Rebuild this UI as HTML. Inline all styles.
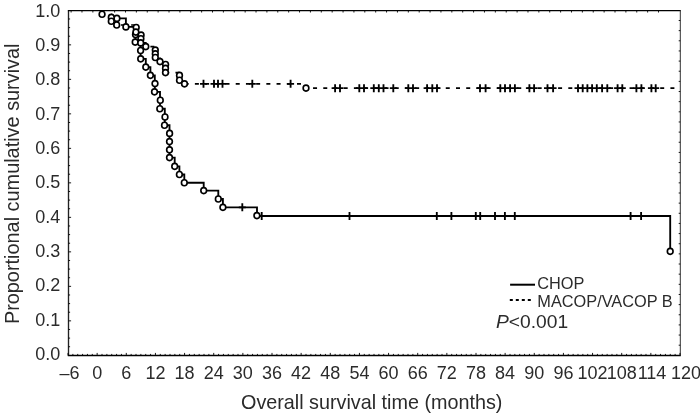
<!DOCTYPE html>
<html><head><meta charset="utf-8"><style>html,body{margin:0;padding:0;background:#fff;}svg{display:block;will-change:transform;}</style></head>
<body><svg width="700" height="413" viewBox="0 0 700 413"><path d="M68.5,355.5 V10.4" fill="none" stroke="#222" stroke-width="1.35"/>
<path d="M67.85,10.6 H680.8" fill="none" stroke="#000" stroke-width="1.2"/>
<path d="M67.85,355.5 H680.8" fill="none" stroke="#000" stroke-width="1.5"/>
<path d="M680.3,10.4 V355.5" fill="none" stroke="#333" stroke-width="1.0"/>
<path d="M68.01,355.5 v-2.6 M72.87,355.5 v-1.6 M77.72,355.5 v-1.6 M82.58,355.5 v-1.6 M87.44,355.5 v-1.6 M92.29,355.5 v-1.6 M97.15,355.5 v-2.6 M102.01,355.5 v-1.6 M106.86,355.5 v-1.6 M111.72,355.5 v-1.6 M116.58,355.5 v-1.6 M121.44,355.5 v-1.6 M126.29,355.5 v-2.6 M131.15,355.5 v-1.6 M136.01,355.5 v-1.6 M140.86,355.5 v-1.6 M145.72,355.5 v-1.6 M150.58,355.5 v-1.6 M155.43,355.5 v-2.6 M160.29,355.5 v-1.6 M165.15,355.5 v-1.6 M170.00,355.5 v-1.6 M174.86,355.5 v-1.6 M179.72,355.5 v-1.6 M184.58,355.5 v-2.6 M189.43,355.5 v-1.6 M194.29,355.5 v-1.6 M199.15,355.5 v-1.6 M204.00,355.5 v-1.6 M208.86,355.5 v-1.6 M213.72,355.5 v-2.6 M218.58,355.5 v-1.6 M223.43,355.5 v-1.6 M228.29,355.5 v-1.6 M233.15,355.5 v-1.6 M238.00,355.5 v-1.6 M242.86,355.5 v-2.6 M247.72,355.5 v-1.6 M252.57,355.5 v-1.6 M257.43,355.5 v-1.6 M262.29,355.5 v-1.6 M267.14,355.5 v-1.6 M272.00,355.5 v-2.6 M276.86,355.5 v-1.6 M281.72,355.5 v-1.6 M286.57,355.5 v-1.6 M291.43,355.5 v-1.6 M296.29,355.5 v-1.6 M301.14,355.5 v-2.6 M306.00,355.5 v-1.6 M310.86,355.5 v-1.6 M315.72,355.5 v-1.6 M320.57,355.5 v-1.6 M325.43,355.5 v-1.6 M330.29,355.5 v-2.6 M335.14,355.5 v-1.6 M340.00,355.5 v-1.6 M344.86,355.5 v-1.6 M349.71,355.5 v-1.6 M354.57,355.5 v-1.6 M359.43,355.5 v-2.6 M364.28,355.5 v-1.6 M369.14,355.5 v-1.6 M374.00,355.5 v-1.6 M378.86,355.5 v-1.6 M383.71,355.5 v-1.6 M388.57,355.5 v-2.6 M393.43,355.5 v-1.6 M398.28,355.5 v-1.6 M403.14,355.5 v-1.6 M408.00,355.5 v-1.6 M412.86,355.5 v-1.6 M417.71,355.5 v-2.6 M422.57,355.5 v-1.6 M427.43,355.5 v-1.6 M432.28,355.5 v-1.6 M437.14,355.5 v-1.6 M442.00,355.5 v-1.6 M446.85,355.5 v-2.6 M451.71,355.5 v-1.6 M456.57,355.5 v-1.6 M461.43,355.5 v-1.6 M466.28,355.5 v-1.6 M471.14,355.5 v-1.6 M476.00,355.5 v-2.6 M480.85,355.5 v-1.6 M485.71,355.5 v-1.6 M490.57,355.5 v-1.6 M495.42,355.5 v-1.6 M500.28,355.5 v-1.6 M505.14,355.5 v-2.6 M510.00,355.5 v-1.6 M514.85,355.5 v-1.6 M519.71,355.5 v-1.6 M524.57,355.5 v-1.6 M529.42,355.5 v-1.6 M534.28,355.5 v-2.6 M539.14,355.5 v-1.6 M543.99,355.5 v-1.6 M548.85,355.5 v-1.6 M553.71,355.5 v-1.6 M558.57,355.5 v-1.6 M563.42,355.5 v-2.6 M568.28,355.5 v-1.6 M573.14,355.5 v-1.6 M577.99,355.5 v-1.6 M582.85,355.5 v-1.6 M587.71,355.5 v-1.6 M592.56,355.5 v-2.6 M597.42,355.5 v-1.6 M602.28,355.5 v-1.6 M607.13,355.5 v-1.6 M611.99,355.5 v-1.6 M616.85,355.5 v-1.6 M621.71,355.5 v-2.6 M626.56,355.5 v-1.6 M631.42,355.5 v-1.6 M636.28,355.5 v-1.6 M641.13,355.5 v-1.6 M645.99,355.5 v-1.6 M650.85,355.5 v-2.6 M655.71,355.5 v-1.6 M660.56,355.5 v-1.6 M665.42,355.5 v-1.6 M670.28,355.5 v-1.6 M675.13,355.5 v-1.6 M679.99,355.5 v-2.6 M68.5,18.98 h1.6 M68.5,27.60 h1.6 M68.5,36.23 h1.6 M68.5,44.85 h2.6 M68.5,53.48 h1.6 M68.5,62.10 h1.6 M68.5,70.72 h1.6 M68.5,79.35 h2.6 M68.5,87.97 h1.6 M68.5,96.60 h1.6 M68.5,105.22 h1.6 M68.5,113.85 h2.6 M68.5,122.47 h1.6 M68.5,131.10 h1.6 M68.5,139.72 h1.6 M68.5,148.35 h2.6 M68.5,156.97 h1.6 M68.5,165.60 h1.6 M68.5,174.22 h1.6 M68.5,182.85 h2.6 M68.5,191.47 h1.6 M68.5,200.10 h1.6 M68.5,208.72 h1.6 M68.5,217.35 h2.6 M68.5,225.97 h1.6 M68.5,234.60 h1.6 M68.5,243.22 h1.6 M68.5,251.85 h2.6 M68.5,260.48 h1.6 M68.5,269.10 h1.6 M68.5,277.73 h1.6 M68.5,286.35 h2.6 M68.5,294.98 h1.6 M68.5,303.60 h1.6 M68.5,312.23 h1.6 M68.5,320.85 h2.6 M68.5,329.48 h1.6 M68.5,338.10 h1.6 M68.5,346.73 h1.6 M71.10,10.4 v2.1 M81.98,10.4 v2.1 M92.86,10.4 v2.1 M103.73,10.4 v2.1 M114.61,10.4 v2.1 M125.49,10.4 v2.1 M136.37,10.4 v2.1 M147.25,10.4 v2.1 M158.12,10.4 v2.1 M169.00,10.4 v2.1 M179.88,10.4 v2.1 M190.76,10.4 v2.1 M201.64,10.4 v2.1 M212.51,10.4 v2.1 M223.39,10.4 v2.1 M234.27,10.4 v2.1 M245.15,10.4 v2.1 M256.03,10.4 v2.1 M266.90,10.4 v2.1 M277.78,10.4 v2.1 M288.66,10.4 v2.1 M299.54,10.4 v2.1 M310.42,10.4 v2.1 M321.29,10.4 v2.1 M332.17,10.4 v2.1 M343.05,10.4 v2.1 M353.93,10.4 v2.1 M364.81,10.4 v2.1 M375.68,10.4 v2.1 M386.56,10.4 v2.1 M397.44,10.4 v2.1 M408.32,10.4 v2.1 M419.20,10.4 v2.1 M430.07,10.4 v2.1 M440.95,10.4 v2.1 M451.83,10.4 v2.1 M462.71,10.4 v2.1 M473.59,10.4 v2.1 M484.46,10.4 v2.1 M495.34,10.4 v2.1 M506.22,10.4 v2.1 M517.10,10.4 v2.1 M527.98,10.4 v2.1 M538.85,10.4 v2.1 M549.73,10.4 v2.1 M560.61,10.4 v2.1 M571.49,10.4 v2.1 M582.37,10.4 v2.1 M593.24,10.4 v2.1 M604.12,10.4 v2.1 M615.00,10.4 v2.1 M625.88,10.4 v2.1 M636.76,10.4 v2.1 M647.63,10.4 v2.1 M658.51,10.4 v2.1 M680.3,20.50 h-1.6 M680.3,30.64 h-1.6 M680.3,40.79 h-1.6 M680.3,50.94 h-1.6 M680.3,61.09 h-1.6 M680.3,71.23 h-1.6 M680.3,81.38 h-1.6 M680.3,91.53 h-1.6 M680.3,101.67 h-1.6 M680.3,111.82 h-1.6 M680.3,121.97 h-1.6 M680.3,132.11 h-1.6 M680.3,142.26 h-1.6 M680.3,152.41 h-1.6 M680.3,162.56 h-1.6 M680.3,172.70 h-1.6 M680.3,182.85 h-1.6 M680.3,193.00 h-1.6 M680.3,203.14 h-1.6 M680.3,213.29 h-1.6 M680.3,223.44 h-1.6 M680.3,233.58 h-1.6 M680.3,243.73 h-1.6 M680.3,253.88 h-1.6 M680.3,264.03 h-1.6 M680.3,274.17 h-1.6 M680.3,284.32 h-1.6 M680.3,294.47 h-1.6 M680.3,304.61 h-1.6 M680.3,314.76 h-1.6 M680.3,324.91 h-1.6 M680.3,335.05 h-1.6 M680.3,345.20 h-1.6" stroke="#000" stroke-width="0.9" fill="none"/>
<g font-family="Liberation Sans" font-size="18" fill="#2b2b2b"><text x="60.3" y="359.90" text-anchor="end">0.0</text><text x="60.3" y="325.59" text-anchor="end">0.1</text><text x="60.3" y="291.28" text-anchor="end">0.2</text><text x="60.3" y="256.97" text-anchor="end">0.3</text><text x="60.3" y="222.66" text-anchor="end">0.4</text><text x="60.3" y="188.35" text-anchor="end">0.5</text><text x="60.3" y="154.04" text-anchor="end">0.6</text><text x="60.3" y="119.73" text-anchor="end">0.7</text><text x="60.3" y="85.42" text-anchor="end">0.8</text><text x="60.3" y="51.11" text-anchor="end">0.9</text><text x="60.3" y="16.80" text-anchor="end">1.0</text><text x="69.41" y="378.6" text-anchor="middle">–6</text><text x="97.15" y="378.6" text-anchor="middle">0</text><text x="126.29" y="378.6" text-anchor="middle">6</text><text x="155.43" y="378.6" text-anchor="middle">12</text><text x="184.58" y="378.6" text-anchor="middle">18</text><text x="213.72" y="378.6" text-anchor="middle">24</text><text x="242.86" y="378.6" text-anchor="middle">30</text><text x="272.00" y="378.6" text-anchor="middle">36</text><text x="301.14" y="378.6" text-anchor="middle">42</text><text x="330.29" y="378.6" text-anchor="middle">48</text><text x="359.43" y="378.6" text-anchor="middle">54</text><text x="388.57" y="378.6" text-anchor="middle">60</text><text x="417.71" y="378.6" text-anchor="middle">66</text><text x="446.85" y="378.6" text-anchor="middle">72</text><text x="476.00" y="378.6" text-anchor="middle">78</text><text x="505.14" y="378.6" text-anchor="middle">84</text><text x="534.28" y="378.6" text-anchor="middle">90</text><text x="563.42" y="378.6" text-anchor="middle">96</text><text x="592.56" y="378.6" text-anchor="middle">102</text><text x="621.71" y="378.6" text-anchor="middle">108</text><text x="652.05" y="378.6" text-anchor="middle">114</text><text x="685.99" y="378.6" text-anchor="middle">120</text></g>
<text transform="translate(371.7,408.6) scale(0.965,1)" text-anchor="middle" font-family="Liberation Sans" font-size="20.5" fill="#2b2b2b">Overall survival time (months)</text>
<text transform="translate(18.5,183.8) rotate(-90) scale(0.97,1)" text-anchor="middle" font-family="Liberation Sans" font-size="20.5" fill="#2b2b2b">Proportional cumulative survival</text>
<path d="M510.1,284.7 H535" stroke="#000" stroke-width="2"/>
<path d="M509.8,300 H531" stroke="#000" stroke-width="2" stroke-dasharray="3 3"/>
<text transform="translate(537.3,289.4) scale(1.02,1)" font-family="Liberation Sans" font-size="16" fill="#2b2b2b">CHOP</text>
<text transform="translate(537.3,306.8) scale(1.02,1)" font-family="Liberation Sans" font-size="16" fill="#2b2b2b">MACOP/VACOP B</text>
<text transform="translate(496.0,327.6) scale(1.04,1)" font-family="Liberation Sans" font-size="18.5" fill="#2b2b2b"><tspan font-style="italic">P</tspan>&lt;0.001</text>
<path d="M112,18.4 H125.9 V26.9 H135.4 V42.1 H140.6 V58.8 H145.8 V67.1 H150.4 V75.3 H154.8 V91.8 H160 V108.7 H164.8 V125.2 H169.5 V157.6 H174.7 V166.3 H179.4 V174.5 H184.3 V182.7 H203.7 V190.6 H218.3 V199 H222.9 V207.3 H257 V216 H670.2 V251.3" fill="none" stroke="#000" stroke-width="1.85"/>
<path d="M102.05,10.8 V14.25 H111.3 V21.2 H116.7 V25 H136 V32.1 H141 V42.9 H145.8 V46.6 H155.3 V57.4 H160 V61.6 H165.5 V72.6 H179.5 V80.2 H184.5 V83.8 H306 V88.15 H680" fill="none" stroke="#000" stroke-width="1.7" stroke-dasharray="4.0 6.21" stroke-dashoffset="7.74"/>
<path d="M238.80,207.3 h7 M242.30,203.30 v8.0 M258.20,216 h7 M261.70,212.00 v8.0 M346.00,216 h7 M349.50,212.00 v8.0 M433.30,216 h7 M436.80,212.00 v8.0 M447.90,216 h7 M451.40,212.00 v8.0 M472.30,216 h7 M475.80,212.00 v8.0 M476.70,216 h7 M480.20,212.00 v8.0 M491.50,216 h7 M495.00,212.00 v8.0 M501.40,216 h7 M504.90,212.00 v8.0 M511.30,216 h7 M514.80,212.00 v8.0 M627.10,216 h7 M630.60,212.00 v8.0 M637.60,216 h7 M641.10,212.00 v8.0 M200.00,83.8 h7 M203.50,79.80 v8.0 M210.50,83.8 h7 M214.00,79.80 v8.0 M214.50,83.8 h7 M218.00,79.80 v8.0 M219.00,83.8 h7 M222.50,79.80 v8.0 M248.80,83.8 h7 M252.30,79.80 v8.0 M287.10,83.8 h7 M290.60,79.80 v8.0 M331.60,88.15 h7 M335.10,84.15 v8.0 M336.50,88.15 h7 M340.00,84.15 v8.0 M355.80,88.15 h7 M359.30,84.15 v8.0 M360.50,88.15 h7 M364.00,84.15 v8.0 M370.30,88.15 h7 M373.80,84.15 v8.0 M375.30,88.15 h7 M378.80,84.15 v8.0 M380.00,88.15 h7 M383.50,84.15 v8.0 M389.80,88.15 h7 M393.30,84.15 v8.0 M404.80,88.15 h7 M408.30,84.15 v8.0 M409.50,88.15 h7 M413.00,84.15 v8.0 M423.60,88.15 h7 M427.10,84.15 v8.0 M428.80,88.15 h7 M432.30,84.15 v8.0 M433.50,88.15 h7 M437.00,84.15 v8.0 M476.50,88.15 h7 M480.00,84.15 v8.0 M482.10,88.15 h7 M485.60,84.15 v8.0 M496.80,88.15 h7 M500.30,84.15 v8.0 M501.50,88.15 h7 M505.00,84.15 v8.0 M506.60,88.15 h7 M510.10,84.15 v8.0 M511.40,88.15 h7 M514.90,84.15 v8.0 M525.90,88.15 h7 M529.40,84.15 v8.0 M530.60,88.15 h7 M534.10,84.15 v8.0 M544.00,88.15 h7 M547.50,84.15 v8.0 M549.60,88.15 h7 M553.10,84.15 v8.0 M574.50,88.15 h7 M578.00,84.15 v8.0 M579.20,88.15 h7 M582.70,84.15 v8.0 M583.90,88.15 h7 M587.40,84.15 v8.0 M588.60,88.15 h7 M592.10,84.15 v8.0 M593.30,88.15 h7 M596.80,84.15 v8.0 M598.60,88.15 h7 M602.10,84.15 v8.0 M603.80,88.15 h7 M607.30,84.15 v8.0 M614.10,88.15 h7 M617.60,84.15 v8.0 M618.80,88.15 h7 M622.30,84.15 v8.0 M632.90,88.15 h7 M636.40,84.15 v8.0 M637.90,88.15 h7 M641.40,84.15 v8.0 M647.90,88.15 h7 M651.40,84.15 v8.0 M652.20,88.15 h7 M655.70,84.15 v8.0" fill="none" stroke="#000" stroke-width="1.85"/>
<g fill="#fff" stroke="#000" stroke-width="1.65"><ellipse cx="116.9" cy="18.4" rx="2.85" ry="3.0"/><ellipse cx="125.9" cy="26.9" rx="2.85" ry="3.0"/><ellipse cx="135.5" cy="34.6" rx="2.85" ry="3.0"/><ellipse cx="135.2" cy="42.1" rx="2.85" ry="3.0"/><ellipse cx="140.6" cy="50.5" rx="2.85" ry="3.0"/><ellipse cx="140.7" cy="58.8" rx="2.85" ry="3.0"/><ellipse cx="145.8" cy="67.1" rx="2.85" ry="3.0"/><ellipse cx="150.4" cy="75.3" rx="2.85" ry="3.0"/><ellipse cx="155" cy="83.6" rx="2.85" ry="3.0"/><ellipse cx="154.5" cy="91.8" rx="2.85" ry="3.0"/><ellipse cx="160.3" cy="100.2" rx="2.85" ry="3.0"/><ellipse cx="159.8" cy="108.7" rx="2.85" ry="3.0"/><ellipse cx="165" cy="117" rx="2.85" ry="3.0"/><ellipse cx="164.5" cy="125.2" rx="2.85" ry="3.0"/><ellipse cx="169.6" cy="133.4" rx="2.85" ry="3.0"/><ellipse cx="169.5" cy="141.6" rx="2.85" ry="3.0"/><ellipse cx="169.5" cy="149.8" rx="2.85" ry="3.0"/><ellipse cx="169.5" cy="157.6" rx="2.85" ry="3.0"/><ellipse cx="174.7" cy="166.3" rx="2.85" ry="3.0"/><ellipse cx="179.4" cy="174.5" rx="2.85" ry="3.0"/><ellipse cx="184.3" cy="182.7" rx="2.85" ry="3.0"/><ellipse cx="203.7" cy="190.6" rx="2.85" ry="3.0"/><ellipse cx="218.3" cy="199" rx="2.85" ry="3.0"/><ellipse cx="222.9" cy="207.3" rx="2.85" ry="3.0"/><ellipse cx="256.9" cy="215.6" rx="2.85" ry="3.0"/><ellipse cx="670.2" cy="251.3" rx="2.85" ry="3.0"/><ellipse cx="102.05" cy="14.25" rx="2.85" ry="3.0"/><ellipse cx="111.3" cy="17.4" rx="2.85" ry="3.0"/><ellipse cx="111.3" cy="21.2" rx="2.85" ry="3.0"/><ellipse cx="116.7" cy="25" rx="2.85" ry="3.0"/><ellipse cx="136.2" cy="27.5" rx="2.85" ry="3.0"/><ellipse cx="135.9" cy="32.1" rx="2.85" ry="3.0"/><ellipse cx="141.1" cy="35.1" rx="2.85" ry="3.0"/><ellipse cx="140.9" cy="38.7" rx="2.85" ry="3.0"/><ellipse cx="140.7" cy="42.9" rx="2.85" ry="3.0"/><ellipse cx="145.8" cy="46.6" rx="2.85" ry="3.0"/><ellipse cx="155.3" cy="50.1" rx="2.85" ry="3.0"/><ellipse cx="155.3" cy="53.8" rx="2.85" ry="3.0"/><ellipse cx="155.3" cy="57.5" rx="2.85" ry="3.0"/><ellipse cx="160" cy="61.6" rx="2.85" ry="3.0"/><ellipse cx="165.6" cy="64.5" rx="2.85" ry="3.0"/><ellipse cx="165.5" cy="68.3" rx="2.85" ry="3.0"/><ellipse cx="165.5" cy="72.6" rx="2.85" ry="3.0"/><ellipse cx="179.5" cy="75.4" rx="2.85" ry="3.0"/><ellipse cx="179.5" cy="80.2" rx="2.85" ry="3.0"/><ellipse cx="184.5" cy="83.8" rx="2.85" ry="3.0"/><ellipse cx="306" cy="88.1" rx="2.85" ry="3.0"/></g></svg></body></html>
